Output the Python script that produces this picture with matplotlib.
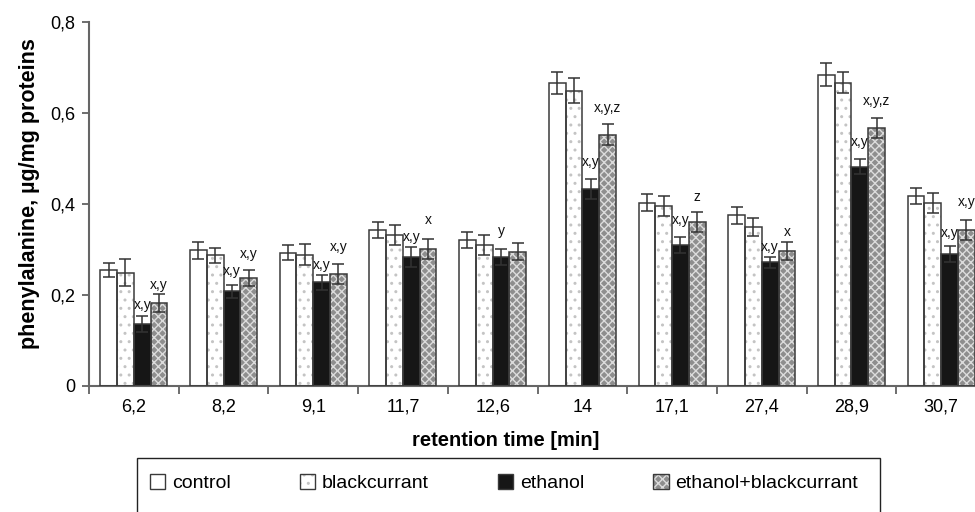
import numpy as np
import matplotlib
matplotlib.use("Agg")
import matplotlib.pyplot as plt
from matplotlib.patches import Patch, Rectangle
from matplotlib.ticker import FixedLocator, FuncFormatter

plt.rcParams['font.family'] = ['Liberation Sans', 'DejaVu Sans']
plt.rcParams['hatch.linewidth'] = 1.0

# ---- data ----
categories = ['6,2', '8,2', '9,1', '11,7', '12,6', '14', '17,1', '27,4', '28,9', '30,7']
control = [0.255, 0.298, 0.293, 0.343, 0.321, 0.666, 0.403, 0.375, 0.684, 0.418]
control_err = [0.016, 0.018, 0.016, 0.018, 0.018, 0.025, 0.018, 0.018, 0.025, 0.018]
blackcurrant = [0.249, 0.287, 0.289, 0.332, 0.310, 0.649, 0.396, 0.350, 0.667, 0.403]
blackcurrant_err = [0.030, 0.016, 0.024, 0.022, 0.022, 0.027, 0.022, 0.020, 0.023, 0.022]
ethanol = [0.136, 0.208, 0.228, 0.283, 0.284, 0.433, 0.310, 0.272, 0.482, 0.290]
ethanol_err = [0.018, 0.015, 0.017, 0.022, 0.017, 0.023, 0.018, 0.012, 0.017, 0.018]
ethanol_bc = [0.183, 0.238, 0.246, 0.301, 0.295, 0.552, 0.360, 0.297, 0.568, 0.343]
ethanol_bc_err = [0.020, 0.018, 0.022, 0.022, 0.019, 0.023, 0.022, 0.020, 0.022, 0.022]
ethanol_sig = ['x,y', 'x,y', 'x,y', 'x,y', 'y', 'x,y', 'x,y', 'x,y', 'x,y', 'x,y']
ethanol_bc_sig = ['x,y', 'x,y', 'x,y', 'x', '', 'x,y,z', 'z', 'x', 'x,y,z', 'x,y']
series_names = ['control', 'blackcurrant', 'ethanol', 'ethanol+blackcurrant']

# ---- style ----
ethanol_pad = [3, 5, 2, 2, 8, 7, 7, 2, 7, 4]      # label offsets (points)
ethanol_bc_pad = [1, 6, 7, 9, 0, 7, 6, 2, 7, 8]
outline = '#3a3a3a'
styles = [
    dict(face='white', hatch=None, hcol='white'),
    dict(face='white', hatch='..', hcol='#c4c4c4'),
    dict(face='#161616', hatch=None, hcol='#161616'),
    dict(face='#8e8e8e', hatch='xxxx', hcol='#dcdcdc'),
]

fig = plt.figure(figsize=(9.75, 5.12), dpi=100)
ax = fig.add_axes([89/975, 126/512, 897/975, 364/512])

x = np.arange(len(categories))
w = 0.187
values = [control, blackcurrant, ethanol, ethanol_bc]
errors = [control_err, blackcurrant_err, ethanol_err, ethanol_bc_err]
handles = []
for i, (vals, errs, st) in enumerate(zip(values, errors, styles)):
    pos = x + (i - 1.5) * w
    ax.bar(pos, vals, w, color=st['face'], edgecolor=st['hcol'], hatch=st['hatch'],
           linewidth=0, zorder=2)
    ax.bar(pos, vals, w, fill=False, edgecolor=outline, linewidth=1.1, zorder=3)
    ax.errorbar(pos, vals, yerr=errs, fmt='none', ecolor='#333333', elinewidth=1.1,
                capsize=4.5, capthick=1.1, zorder=4)
    p1 = Patch(facecolor=st['face'], edgecolor=st['hcol'], hatch=st['hatch'], linewidth=0)
    p2 = Patch(fill=False, edgecolor=outline, linewidth=1.0)
    handles.append((p1, p2))

# significance letters
for j in range(len(categories)):
    for k, (vals, errs, sig, pad) in enumerate([(ethanol, ethanol_err, ethanol_sig, ethanol_pad),
                                                 (ethanol_bc, ethanol_bc_err, ethanol_bc_sig, ethanol_bc_pad)]):
        if sig[j]:
            pos = x[j] + (k + 0.5) * w
            ax.annotate(sig[j], (pos, vals[j] + errs[j]), xytext=(0, pad[j]),
                        textcoords='offset points', ha='center', va='bottom',
                        fontsize=10, color='#111111', zorder=5, annotation_clip=False)

ax.set_xlim(-0.5, len(categories) - 0.5)
ax.set_ylim(0, 0.8)
ax.set_yticks([0, 0.2, 0.4, 0.6, 0.8])
ax.yaxis.set_major_formatter(FuncFormatter(lambda v, p: '0' if v == 0 else f'{v:.1f}'.replace('.', ',')))
ax.set_xticks(x)
ax.set_xticklabels(categories)
ax.xaxis.set_minor_locator(FixedLocator(np.arange(len(categories) + 1) - 0.5))
ax.tick_params(axis='x', which='major', length=0, pad=9, labelsize=13)
ax.tick_params(axis='x', which='minor', length=6, width=1.2, color='#555555', direction='out')
ax.tick_params(axis='y', length=5, width=1.2, color='#555555', pad=5, labelsize=13)
for s in ['top', 'right']:
    ax.spines[s].set_visible(False)
for s in ['left', 'bottom']:
    ax.spines[s].set_color('#666666')
    ax.spines[s].set_linewidth(1.5)

ax.set_xlabel('retention time [min]', fontsize=14.5, fontweight='bold')
ax.xaxis.set_label_coords(0.465, -0.125)
ax.set_ylabel('phenylalanine, µg/mg proteins', fontsize=15.5, fontweight='bold')
ax.yaxis.set_label_coords(-0.055, 0.53)

# legend box (extends past the bottom edge, as in the reference)
fig.patches.append(Rectangle((137/975, -0.05), 743/975, 0.05 + 1 - 458/512,
                             transform=fig.transFigure, fill=False,
                             edgecolor='#222222', linewidth=1.0))
leg = fig.legend(handles, series_names, loc='center left', ncol=4, mode='expand',
                 bbox_to_anchor=(146/975, 1 - 483/512, 716/975, 0),
                 fontsize=14, frameon=False, borderpad=0.2,
                 handlelength=0.8, handleheight=0.8, handletextpad=0.35,
                 borderaxespad=0)

fig.savefig('out.png', dpi=100)
